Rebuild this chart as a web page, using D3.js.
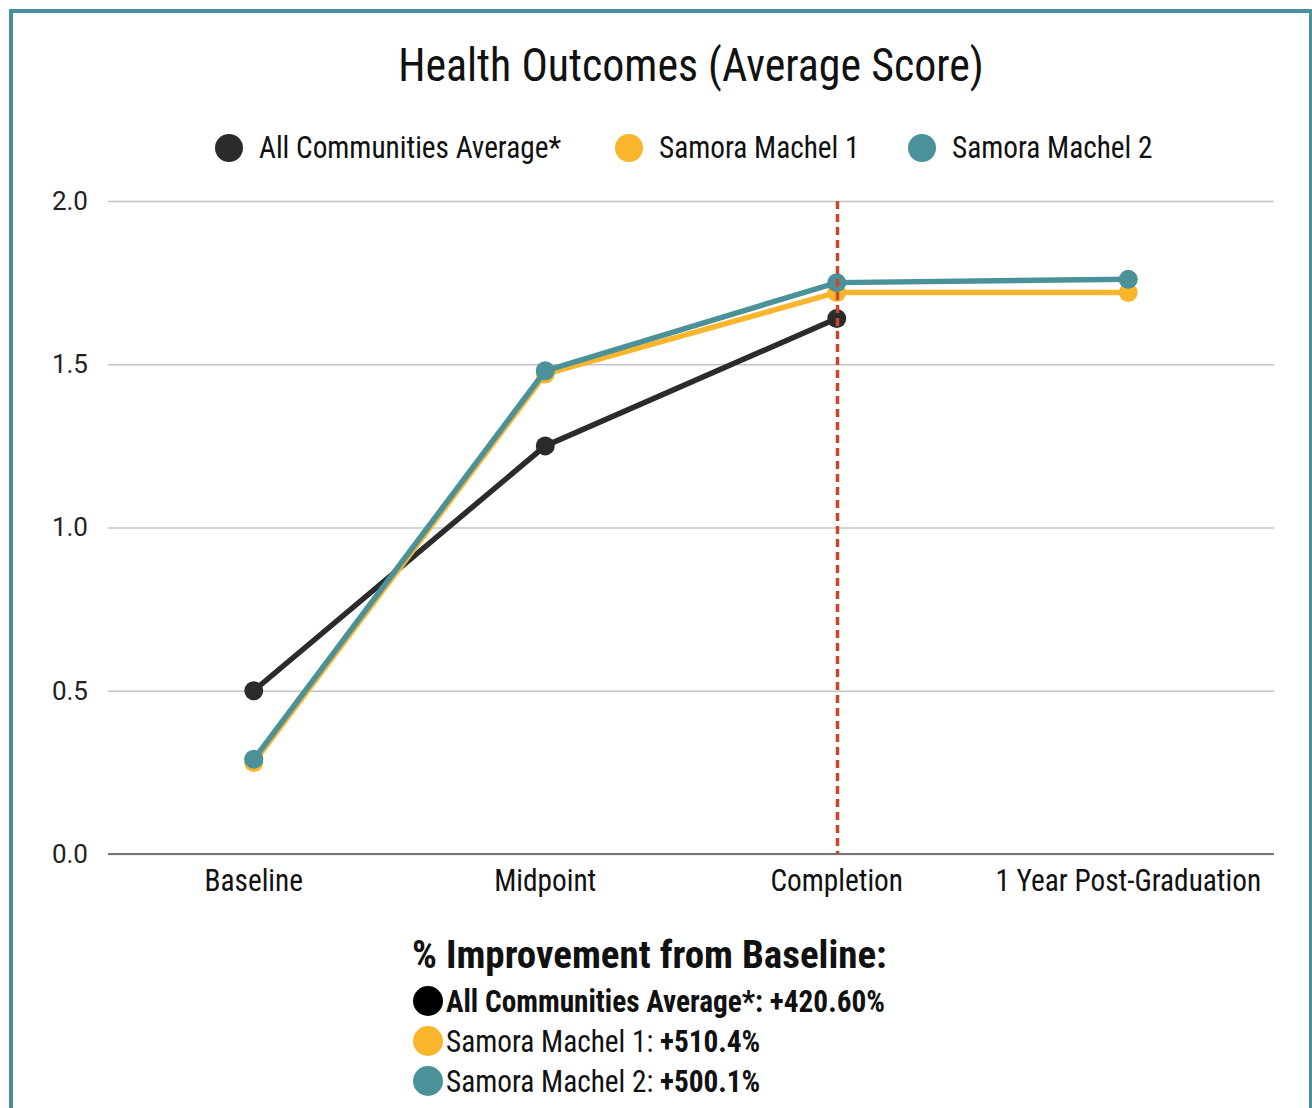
<!DOCTYPE html>
<html>
<head>
<meta charset="utf-8">
<script src="https://cdn.jsdelivr.net/npm/d3@7"></script>
<style>
  body { margin: 0; background: #fff; }
  svg text { font-family: "Roboto Condensed", Roboto, sans-serif; }
</style>
</head>
<body>
<div id="chart"></div>
<script>
const width = 1312,
    height = 1108;

// data
const stages = ["Baseline", "Midpoint", "Completion", "1 Year Post-Graduation"];
const allAverage = [0.50, 1.25, 1.64, null];
const samora1 = [0.28, 1.47, 1.72, 1.72];
const samora2 = [0.29, 1.48, 1.75, 1.76];
const seriesNames = ["All Communities Average*", "Samora Machel 1", "Samora Machel 2"];
const seriesColors = ["#2b2b2b", "#f9b62c", "#4a9199"];
const yTicks = [0, 0.5, 1.0, 1.5, 2.0];
const improvementValues = ["+420.60%", "+510.4%", "+500.1%"];

const margin = { top: 201, right: 38, bottom: 254, left: 108 };

const svg = d3.select("#chart")
    .append("svg")
    .attr("width", width)
    .attr("height", height);

// outer frame
svg.append("rect")
    .attr("x", 11).attr("y", 11)
    .attr("width", 1300).attr("height", 1200)
    .attr("fill", "none")
    .attr("stroke", "#4a909a")
    .attr("stroke-width", 4);

// narrow-looking text: squeeze horizontally around the anchor point
function condText(sel, x, y, str, size, weight, anchor, k) {
    return sel.append("text")
        .attr("transform", `translate(${x},${y}) scale(${k || 0.945},1)`)
        .attr("text-anchor", anchor || "start")
        .style("font-size", size + "px")
        .style("font-weight", weight || 400)
        .attr("fill", "#111")
        .text(str);
}

condText(svg, 691, 81, "Health Outcomes (Average Score)", 46.5, 400, "middle");

// top legend
const legendX = [229, 629, 922];
seriesNames.forEach((name, i) => {
    svg.append("circle")
        .attr("cx", legendX[i]).attr("cy", 148)
        .attr("r", 14)
        .attr("fill", seriesColors[i]);
    condText(svg, legendX[i] + 30, 158, name, 31, 400, "start");
});

const x = d3.scalePoint()
    .domain(stages)
    .range([margin.left, width - margin.right])
    .padding(0.5);

const y = d3.scaleLinear()
    .domain([0, 2])
    .range([height - margin.bottom, margin.top]);

// grid lines + y labels
const yAxis = svg.append("g")
    .attr("transform", `translate(${margin.left},0)`)
    .call(d3.axisLeft(y).tickValues(yTicks).tickFormat(d3.format(".1f"))
        .tickSize(-(width - margin.left - margin.right)).tickPadding(20));
yAxis.select(".domain").remove();
yAxis.selectAll(".tick line").attr("stroke", "#c4c4c4").attr("stroke-width", 1.5);
yAxis.selectAll(".tick text")
    .style("font-family", "Roboto, sans-serif")
    .style("font-size", "26px")
    .attr("fill", "#222");

// baseline axis
svg.append("line")
    .attr("x1", margin.left).attr("x2", width - margin.right)
    .attr("y1", y(0)).attr("y2", y(0))
    .attr("stroke", "#777").attr("stroke-width", 2);

// x labels
stages.forEach(s => {
    condText(svg, x(s), 891, s, 31, 400, "middle");
});

const line = d3.line()
    .defined(d => d.v !== null)
    .x(d => x(d.stage))
    .y(d => y(d.v));

const allSeries = [allAverage, samora1, samora2];
allSeries.forEach((vals, i) => {
    const pts = stages.map((s, j) => ({ stage: s, v: vals[j] }));
    svg.append("path")
        .datum(pts)
        .attr("d", line)
        .attr("fill", "none")
        .attr("stroke", seriesColors[i])
        .attr("stroke-width", 5.5);
    svg.selectAll(null)
        .data(pts.filter(d => d.v !== null))
        .enter().append("circle")
        .attr("cx", d => x(d.stage))
        .attr("cy", d => y(d.v))
        .attr("r", 9.5)
        .attr("fill", seriesColors[i]);
});

// dashed completion marker (sits on top of the dots)
svg.append("line")
    .attr("x1", Math.round(x("Completion")) + 0.5).attr("x2", Math.round(x("Completion")) + 0.5)
    .attr("y1", y(2)).attr("y2", y(0))
    .attr("stroke", "#c9472a")
    .attr("stroke-width", 3.5)
    .attr("stroke-dasharray", "8,5");

// improvement notes
condText(svg, 412, 968, "% Improvement from Baseline:", 39, 700, "start", 1.0);
const noteColors = ["#000", seriesColors[1], seriesColors[2]];
seriesNames.forEach((name, i) => {
    const yy = 1001 + i * 40;
    svg.append("circle")
        .attr("cx", 428).attr("cy", yy)
        .attr("r", 15)
        .attr("fill", noteColors[i]);
    const t = svg.append("text")
        .attr("transform", `translate(446,${yy + 11}) scale(0.945,1)`)
        .style("font-size", "31px")
        .attr("fill", "#111");
    t.append("tspan")
        .style("font-weight", i === 0 ? 700 : 400)
        .text(name + ": ");
    t.append("tspan")
        .style("font-weight", 700)
        .text(improvementValues[i]);
});
</script>
</body>
</html>
